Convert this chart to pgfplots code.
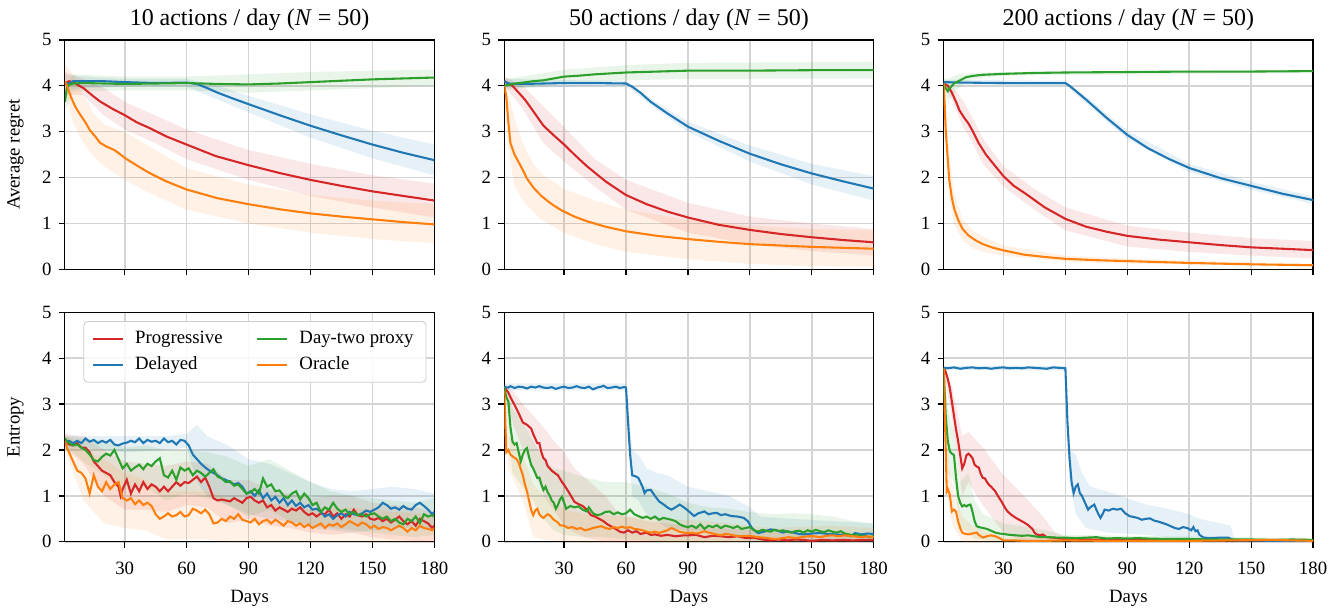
\documentclass[border=0pt]{standalone}
\usepackage{fontspec}
\setmainfont{Liberation Serif}
\usepackage{pgfplots}
\pgfplotsset{compat=1.18}
\usepgfplotslibrary{groupplots,fillbetween}

\definecolor{cRed}{HTML}{D62728}
\definecolor{cBlue}{HTML}{1F77B4}
\definecolor{cGreen}{HTML}{2CA02C}
\definecolor{cOrange}{HTML}{FF7F0E}

% shaded band: name, colour, upper, lower
\newcommand{\band}[4]{%
  \addplot[draw=none,forget plot,name path=#1u] coordinates {#3};
  \addplot[draw=none,forget plot,name path=#1l] coordinates {#4};
  \addplot[fill=#2,fill opacity=0.11,draw=none,forget plot] fill between[of=#1u and #1l];
}

\begin{document}
\begin{tikzpicture}
\begin{groupplot}[
  group style={group size=3 by 2, horizontal sep=1.18cm, vertical sep=0.724cm,
    xticklabels at=edge bottom},
  scale only axis, width=6.23cm, height=3.87cm,
  xmin=1, xmax=180, ymin=0, ymax=5,
  xtick={30,60,...,180}, ytick={0,1,...,5},
  xtick pos=lower, ytick pos=left,
  tick align=outside, major tick length=0.1cm,
  tick style={black,line width=0.6pt},
  axis line style={line width=0.6pt},
  grid=major, grid style={black!17,line width=0.75pt},
  tick label style={font=\small}, label style={font=\small},
  xticklabel shift=3.4pt, xlabel shift=0.5pt, ylabel shift=2pt,
  title style={font=\fontsize{11.5}{13.8}\selectfont, yshift=-5pt},
  /pgf/number format/assume math mode=true,
  every axis plot/.append style={line width=1pt},
]

% ---------- 10 actions, regret
\nextgroupplot[title={10 actions / day (\textit{N} = 50)}, ylabel={Average regret}]
\band{a}{cRed}{(1,4.3)(10,4.15)(20,3.95)(30,3.65)(45,3.35)(60,3.05)(90,2.6)(120,2.3)(150,2.05)(180,1.87)}{(1,3.8)(10,3.8)(20,3.35)(30,3.05)(45,2.75)(60,2.4)(90,1.95)(120,1.6)(150,1.35)(180,1.13)}
\band{b}{cBlue}{(1,4.25)(10,4.2)(30,4.15)(60,4.15)(75,4.0)(90,3.78)(120,3.38)(150,3.02)(180,2.72)}{(1,3.9)(10,3.95)(30,3.98)(60,3.98)(75,3.7)(90,3.42)(120,2.87)(150,2.42)(180,2.05)}
\band{c}{cGreen}{(1,3.9)(5,4.25)(30,4.2)(60,4.2)(90,4.25)(120,4.3)(150,4.33)(180,4.35)}{(1,3.45)(5,3.88)(30,3.9)(60,3.9)(90,3.85)(120,3.9)(150,3.95)(180,4.0)}
\band{d}{cOrange}{(1,4.45)(5,4.25)(10,3.8)(15,3.4)(20,3.15)(30,3.0)(45,2.6)(60,2.2)(90,1.85)(120,1.62)(150,1.5)(180,1.42)}{(1,3.8)(5,3.2)(10,2.75)(15,2.45)(20,2.25)(30,1.95)(45,1.6)(60,1.3)(90,1.0)(120,0.8)(150,0.66)(180,0.57)}
\addplot[cRed] coordinates {(1,4.05)(3,4.1)(5,4.08)(8,4.0)(10,3.95)(14,3.8)(18,3.66)(24,3.5)(30,3.36)(36,3.2)(42,3.08)(50,2.9)(60,2.72)(74,2.47)(90,2.27)(105,2.1)(120,1.95)(135,1.82)(150,1.7)(165,1.6)(180,1.5)};
\addplot[cBlue] coordinates {(1,4.05)(3,4.05)(5,4.1)(10,4.1)(20,4.1)(30,4.08)(45,4.06)(60,4.07)(65,4.04)(70,3.95)(75,3.85)(82,3.73)(90,3.6)(105,3.36)(120,3.13)(135,2.92)(150,2.72)(165,2.54)(180,2.38)};
\addplot[cGreen] coordinates {(1,3.65)(2,3.95)(3,4.02)(5,4.05)(10,4.06)(20,4.05)(30,4.04)(45,4.05)(60,4.06)(75,4.04)(90,4.03)(105,4.05)(120,4.08)(135,4.11)(150,4.14)(165,4.16)(180,4.18)};
\addplot[cOrange] coordinates {(1,4.1)(2,4.0)(4,3.75)(6,3.55)(8,3.4)(11,3.2)(13,3.04)(16,2.88)(18,2.76)(21,2.68)(25,2.6)(28,2.5)(30,2.43)(36,2.26)(42,2.1)(50,1.92)(60,1.74)(75,1.55)(90,1.42)(105,1.31)(120,1.22)(135,1.15)(150,1.09)(165,1.03)(180,0.98)};

% ---------- 50 actions, regret
\nextgroupplot[title={50 actions / day (\textit{N} = 50)}]
\band{a}{cRed}{(1,4.2)(10,4.0)(20,3.55)(30,3.1)(45,2.4)(60,1.95)(90,1.45)(120,1.15)(150,1.0)(180,0.88)}{(1,4.0)(10,3.5)(20,2.75)(30,2.35)(45,1.8)(60,1.3)(90,0.8)(120,0.55)(150,0.4)(180,0.3)}
\band{b}{cBlue}{(1,4.15)(60,4.1)(72,3.72)(90,3.22)(120,2.7)(150,2.3)(180,2.03)}{(1,3.95)(60,4.0)(72,3.58)(90,3.0)(120,2.35)(150,1.85)(180,1.5)}
\band{c}{cGreen}{(1,4.15)(10,4.2)(30,4.35)(60,4.45)(90,4.5)(180,4.52)}{(1,3.9)(10,3.95)(30,4.05)(60,4.12)(90,4.15)(180,4.16)}
\band{d}{cOrange}{(1,4.1)(3,3.8)(6,3.3)(10,2.75)(15,2.3)(20,2.05)(30,1.75)(45,1.5)(60,1.3)(90,1.08)(120,0.95)(150,0.88)(180,0.85)}{(1,3.8)(3,2.6)(6,1.8)(10,1.5)(15,1.25)(20,1.05)(30,0.8)(45,0.55)(60,0.38)(90,0.22)(120,0.12)(150,0.07)(180,0.05)}
\addplot[cRed] coordinates {(1,4.1)(3,4.05)(5,4.0)(8,3.85)(11,3.7)(15,3.45)(20,3.13)(25,2.92)(30,2.72)(35,2.5)(41,2.25)(50,1.92)(60,1.62)(70,1.42)(80,1.26)(90,1.13)(105,0.97)(120,0.86)(135,0.77)(150,0.7)(165,0.64)(180,0.59)};
\addplot[cBlue] coordinates {(1,4.1)(3,4.05)(10,4.04)(20,4.05)(30,4.06)(45,4.06)(60,4.05)(63,3.98)(67,3.85)(72,3.65)(80,3.4)(90,3.11)(105,2.8)(120,2.52)(135,2.29)(150,2.09)(165,1.92)(180,1.76)};
\addplot[cGreen] coordinates {(1,4.0)(5,4.04)(10,4.07)(15,4.1)(20,4.12)(25,4.16)(30,4.2)(37,4.22)(45,4.25)(60,4.29)(75,4.31)(90,4.33)(120,4.33)(150,4.34)(180,4.34)};
\addplot[cOrange] coordinates {(1,4.0)(2,3.76)(3,3.2)(4,2.75)(6,2.5)(9,2.25)(12,1.98)(15.5,1.76)(19,1.6)(22,1.49)(25,1.39)(29,1.28)(35,1.15)(41,1.05)(50,0.93)(60,0.83)(75,0.73)(90,0.66)(105,0.6)(120,0.55)(135,0.52)(150,0.49)(165,0.47)(180,0.45)};

% ---------- 200 actions, regret
\nextgroupplot[title={200 actions / day (\textit{N} = 50)}]
\band{a}{cRed}{(1,4.1)(5,4.0)(10,3.7)(15,3.3)(20,2.85)(30,2.25)(45,1.75)(60,1.35)(90,0.95)(120,0.8)(150,0.68)(180,0.62)}{(1,4.0)(5,3.7)(10,3.15)(15,2.75)(20,2.3)(30,1.8)(45,1.3)(60,0.85)(90,0.5)(120,0.38)(150,0.3)(180,0.24)}
\band{b}{cBlue}{(1,4.13)(60,4.11)(73,3.66)(90,3.02)(120,2.3)(150,1.91)(180,1.59)}{(1,4.03)(60,4.01)(73,3.5)(90,2.84)(120,2.12)(150,1.73)(180,1.43)}
\band{c}{cGreen}{(1,4.15)(3,4.15)(8,4.25)(15,4.28)(30,4.3)(180,4.35)}{(1,3.95)(3,3.65)(8,3.95)(15,4.15)(30,4.22)(180,4.29)}
\band{d}{cOrange}{(1,4.1)(2,3.5)(4,2.4)(6,1.7)(10,1.1)(15,0.85)(20,0.72)(30,0.52)(60,0.3)(90,0.23)(180,0.12)}{(1,4.0)(2,2.6)(4,1.5)(6,1.0)(10,0.65)(15,0.45)(20,0.38)(30,0.3)(60,0.17)(90,0.13)(180,0.06)}
\addplot[cRed] coordinates {(1,4.05)(3,4.0)(5,3.85)(7,3.65)(8.6,3.47)(11,3.3)(13,3.18)(15,3.02)(18,2.75)(21.5,2.5)(26,2.25)(30,2.03)(35,1.82)(41,1.64)(50,1.35)(60,1.1)(70,0.93)(80,0.82)(90,0.73)(105,0.65)(120,0.59)(135,0.53)(150,0.48)(165,0.45)(180,0.42)};
\addplot[cBlue] coordinates {(1,4.08)(10,4.07)(30,4.06)(60,4.06)(62,4.0)(66,3.85)(70,3.7)(73,3.58)(80,3.3)(90,2.93)(100,2.64)(110,2.41)(120,2.21)(135,1.99)(150,1.82)(165,1.65)(180,1.51)};
\addplot[cGreen] coordinates {(1,4.05)(2,3.95)(3,3.88)(4,3.95)(6,4.05)(9,4.12)(12,4.19)(16,4.22)(20,4.24)(30,4.26)(45,4.28)(60,4.29)(90,4.3)(120,4.31)(150,4.31)(180,4.32)};
\addplot[cOrange] coordinates {(1,4.05)(1.5,3.6)(2,3.04)(3,2.4)(3.7,1.96)(5,1.55)(6.2,1.31)(8,1.08)(10.2,0.88)(13,0.74)(16.6,0.63)(20,0.55)(25,0.47)(30.4,0.41)(40,0.32)(50,0.27)(60,0.23)(75,0.2)(90,0.18)(120,0.14)(150,0.11)(180,0.09)};

% ---------- 10 actions, entropy
\nextgroupplot[ylabel={Entropy}, xlabel={Days},
  legend columns=2, transpose legend, legend cell align=left,
  legend style={at={(0.05,0.962)}, anchor=north west, draw=black!20, rounded corners=2pt,
    fill=white, fill opacity=0.85, text opacity=1, font=\small,
    inner xsep=4pt, inner ysep=2.5pt, row sep=1pt,
    /tikz/every odd column/.append style={column sep=0.12cm},
    /tikz/every even column/.append style={column sep=0.5cm}},
  legend image code/.code={\draw[#1,line width=1pt] (0cm,0cm) -- (0.5cm,0cm);}]
\band{a}{cRed}{(1,2.35)(10,2.3)(20,2.0)(30,1.75)(40,1.7)(50,1.65)(60,1.75)(70,1.7)(80,1.35)(90,1.35)(100,1.15)(110,1.05)(120,0.95)(130,1.0)(140,1.0)(150,0.85)(160,0.8)(170,0.75)(180,0.65)}{(1,2.05)(10,1.7)(20,1.0)(30,0.7)(40,0.7)(50,0.65)(60,0.8)(70,0.75)(80,0.4)(90,0.5)(100,0.35)(110,0.3)(120,0.2)(130,0.15)(140,0.2)(150,0.1)(160,0.05)(170,0.02)(180,0.0)}
\band{b}{cBlue}{(1,2.3)(10,2.3)(30,2.3)(50,2.3)(60,2.35)(65,2.55)(70,2.3)(80,2.1)(90,1.8)(100,1.7)(110,1.5)(120,1.3)(130,1.15)(140,1.1)(150,1.15)(160,1.2)(170,1.15)(180,1.05)}{(1,2.0)(10,2.05)(30,1.95)(50,2.0)(60,2.05)(65,1.3)(70,1.0)(80,0.8)(90,0.6)(100,0.5)(110,0.45)(120,0.3)(130,0.25)(140,0.2)(150,0.25)(160,0.3)(170,0.3)(180,0.25)}
\band{c}{cGreen}{(1,2.3)(10,2.25)(20,2.2)(30,2.05)(40,2.1)(50,2.0)(60,2.0)(70,1.95)(80,1.85)(90,1.65)(100,1.8)(110,1.55)(120,1.3)(130,1.1)(140,1.0)(150,0.95)(160,0.9)(170,0.85)(180,0.95)}{(1,2.1)(10,1.75)(20,1.45)(30,1.15)(40,1.2)(50,0.9)(60,1.05)(70,0.95)(80,0.8)(90,0.55)(100,0.7)(110,0.45)(120,0.35)(130,0.3)(140,0.25)(150,0.2)(160,0.15)(170,0.1)(180,0.15)}
\band{d}{cOrange}{(1,2.35)(10,2.0)(20,1.8)(30,1.5)(40,1.35)(50,1.1)(60,1.1)(70,1.1)(80,0.95)(90,0.9)(100,0.85)(120,0.7)(140,0.75)(160,0.65)(180,0.6)}{(1,2.0)(10,0.9)(20,0.4)(30,0.3)(40,0.25)(50,0.05)(60,0.05)(70,0.05)(80,0.0)(100,0.0)(180,0.0)}
\addplot[cRed] coordinates {(1,2.2)(3,2.12)(5,2.1)(7,2.15)(9,2.05)(11,2.05)(13,1.95)(15,1.75)(17,1.65)(19,1.55)(21,1.5)(23,1.45)(25,1.3)(27,1.2)(28,1.0)(29,1.15)(31,1.35)(33,1.05)(35,1.25)(37,1.1)(39,1.3)(41,1.15)(43,1.25)(45,1.2)(47,1.1)(49,1.2)(51,1.1)(53,1.2)(55,1.3)(57,1.22)(59,1.3)(61,1.28)(63,1.35)(65,1.42)(67,1.3)(69,1.4)(71,1.2)(73,0.95)(75,0.9)(77,0.92)(79,0.9)(81,0.88)(83,0.95)(85,0.9)(87,0.85)(89,0.95)(91,0.98)(93,0.9)(95,0.85)(97,0.9)(99,0.75)(101,0.8)(103,0.68)(105,0.75)(107,0.7)(109,0.65)(111,0.72)(113,0.68)(115,0.75)(117,0.65)(119,0.58)(121,0.62)(123,0.55)(125,0.62)(127,0.6)(129,0.7)(131,0.55)(133,0.62)(135,0.5)(137,0.6)(139,0.55)(141,0.7)(143,0.58)(145,0.55)(147,0.6)(149,0.5)(151,0.48)(153,0.52)(155,0.45)(157,0.5)(159,0.42)(161,0.48)(163,0.55)(165,0.45)(167,0.38)(169,0.45)(171,0.35)(173,0.5)(175,0.45)(177,0.4)(179,0.3)(180,0.35)};
\addlegendentry{Progressive}
\addplot[cBlue] coordinates {(1,2.15)(3,2.2)(5,2.15)(7,2.2)(9,2.15)(11,2.25)(13,2.18)(15,2.22)(17,2.15)(19,2.2)(21,2.16)(23,2.22)(25,2.12)(27,2.1)(29,2.14)(31,2.16)(33,2.2)(35,2.17)(37,2.25)(39,2.15)(41,2.22)(43,2.18)(45,2.2)(47,2.15)(49,2.25)(51,2.17)(53,2.2)(55,2.12)(57,2.22)(59,2.2)(61,2.1)(63,1.9)(65,1.8)(67,1.7)(69,1.62)(71,1.55)(73,1.5)(75,1.45)(77,1.38)(79,1.35)(81,1.3)(83,1.25)(85,1.28)(87,1.2)(89,1.05)(91,1.1)(93,1.0)(95,1.12)(97,0.95)(99,1.05)(101,0.9)(103,0.98)(105,0.85)(107,0.95)(109,0.8)(111,0.9)(113,0.78)(115,0.85)(117,0.75)(119,0.8)(121,0.7)(123,0.72)(125,0.65)(127,0.55)(129,0.6)(131,0.5)(133,0.58)(135,0.62)(137,0.55)(139,0.65)(141,0.6)(143,0.58)(145,0.62)(147,0.68)(149,0.65)(151,0.7)(153,0.75)(155,0.85)(157,0.8)(159,0.72)(161,0.75)(163,0.7)(165,0.78)(167,0.72)(169,0.7)(171,0.8)(173,0.85)(175,0.78)(177,0.7)(179,0.6)(180,0.65)};
\addlegendentry{Delayed}
\addplot[cGreen] coordinates {(1,2.25)(3,2.15)(5,2.1)(7,2.12)(9,2.05)(11,2.0)(13,1.9)(15,1.78)(17,1.75)(19,1.85)(21,1.92)(23,1.88)(25,2.0)(27,1.8)(29,1.6)(31,1.7)(33,1.55)(35,1.62)(37,1.68)(39,1.58)(41,1.7)(43,1.65)(45,1.75)(47,1.82)(49,1.45)(51,1.4)(53,1.55)(55,1.35)(57,1.62)(59,1.55)(61,1.6)(63,1.45)(65,1.55)(67,1.5)(69,1.42)(71,1.5)(73,1.58)(75,1.42)(77,1.38)(79,1.3)(81,1.32)(83,1.22)(85,1.25)(87,1.15)(89,1.05)(91,1.08)(93,1.15)(95,1.05)(97,1.38)(99,1.2)(101,1.25)(103,1.1)(105,1.12)(107,1.0)(109,0.95)(111,1.05)(113,1.1)(115,0.92)(117,1.05)(119,0.95)(121,0.8)(123,0.85)(125,0.65)(127,0.75)(129,0.7)(131,0.85)(133,0.72)(135,0.65)(137,0.7)(139,0.6)(141,0.65)(143,0.58)(145,0.6)(147,0.55)(149,0.6)(151,0.62)(153,0.55)(155,0.5)(157,0.55)(159,0.45)(161,0.5)(163,0.42)(165,0.38)(167,0.5)(169,0.45)(171,0.55)(173,0.4)(175,0.6)(177,0.55)(179,0.58)(180,0.55)};
\addlegendentry{Day-two proxy}
\addplot[cOrange] coordinates {(1,2.2)(2,2.05)(3,1.95)(5,1.75)(7,1.55)(9,1.5)(11,1.38)(13,1.05)(15,1.45)(17,1.2)(19,1.1)(21,1.3)(23,1.15)(25,1.25)(27,1.3)(29,0.95)(31,0.9)(33,0.95)(35,0.82)(37,0.9)(39,0.8)(41,0.85)(43,0.78)(45,0.6)(47,0.5)(49,0.55)(51,0.62)(53,0.55)(55,0.58)(57,0.65)(59,0.55)(61,0.58)(63,0.72)(65,0.68)(67,0.62)(69,0.7)(71,0.6)(73,0.4)(75,0.42)(77,0.5)(79,0.45)(81,0.55)(83,0.5)(85,0.6)(87,0.48)(89,0.45)(91,0.42)(93,0.5)(95,0.38)(97,0.45)(99,0.48)(101,0.4)(103,0.48)(105,0.42)(107,0.35)(109,0.45)(111,0.42)(113,0.35)(115,0.4)(117,0.32)(119,0.38)(121,0.3)(123,0.35)(125,0.4)(127,0.3)(129,0.38)(131,0.35)(133,0.4)(135,0.32)(137,0.38)(139,0.45)(141,0.4)(143,0.35)(145,0.42)(147,0.38)(149,0.3)(151,0.35)(153,0.28)(155,0.32)(157,0.3)(159,0.25)(161,0.3)(163,0.35)(165,0.3)(167,0.22)(169,0.3)(171,0.25)(173,0.35)(175,0.3)(177,0.28)(179,0.25)(180,0.3)};
\addlegendentry{Oracle}

% ---------- 50 actions, entropy
\nextgroupplot[xlabel={Days}]
\band{a}{cRed}{(1,3.45)(5,3.3)(10,3.0)(15,2.75)(20,2.5)(25,2.2)(30,1.95)(35,1.6)(40,1.4)(45,1.2)(50,1.0)(55,0.7)(60,0.55)(70,0.45)(90,0.35)(120,0.25)(150,0.15)(180,0.12)}{(1,3.3)(5,2.6)(10,2.0)(15,1.6)(20,1.0)(25,0.7)(30,0.35)(35,0.2)(40,0.1)(50,0.0)(180,0.0)}
\band{b}{cBlue}{(1,3.45)(60,3.45)(61,3.0)(63,2.0)(66,1.9)(70,1.6)(75,1.5)(80,1.45)(90,1.2)(100,1.1)(110,1.0)(120,0.75)(125,0.55)(140,0.5)(160,0.45)(180,0.4)}{(1,3.3)(60,3.3)(61,2.3)(63,1.0)(66,0.9)(70,0.6)(75,0.45)(80,0.3)(90,0.25)(100,0.2)(110,0.15)(120,0.05)(125,0.0)(180,0.0)}
\band{c}{cGreen}{(1,3.45)(5,2.9)(10,2.6)(15,2.2)(20,1.8)(25,1.6)(30,1.55)(40,1.4)(50,1.3)(60,1.3)(70,1.2)(80,1.05)(90,0.85)(100,0.75)(110,0.72)(120,0.65)(130,0.6)(140,0.62)(150,0.6)(160,0.55)(170,0.45)(180,0.4)}{(1,3.3)(5,1.5)(10,1.2)(15,0.9)(20,0.5)(25,0.25)(30,0.15)(40,0.1)(50,0.1)(60,0.05)(80,0.0)(180,0.0)}
\band{d}{cOrange}{(1,3.4)(3,2.3)(6,2.2)(10,1.9)(15,1.25)(20,1.0)(30,0.7)(40,0.6)(60,0.55)(80,0.5)(100,0.45)(130,0.3)(160,0.35)(180,0.3)}{(1,3.2)(3,1.6)(6,1.3)(10,0.9)(15,0.1)(20,0.05)(30,0.0)(180,0.0)}
\addplot[cRed] coordinates {(1,3.37)(3,3.25)(4,3.15)(6,2.98)(8,2.8)(10,2.6)(12,2.55)(14,2.47)(15,2.35)(17,2.15)(18,2.15)(19,1.95)(20,1.82)(21,1.78)(22,1.65)(24,1.55)(26,1.48)(27,1.45)(29,1.3)(30,1.24)(32,1.1)(34,0.95)(35,0.87)(37,0.82)(39,0.78)(41,0.7)(43,0.58)(45,0.55)(47,0.5)(49,0.45)(51,0.38)(53,0.33)(55,0.28)(57,0.22)(59,0.2)(61,0.25)(63,0.2)(65,0.23)(67,0.17)(70,0.2)(72,0.15)(74,0.16)(77,0.13)(80,0.15)(84,0.12)(88,0.14)(90,0.14)(94,0.15)(98,0.1)(102,0.13)(106,0.12)(110,0.1)(114,0.12)(118,0.08)(122,0.09)(126,0.05)(130,0.03)(134,0.05)(138,0.03)(142,0.05)(146,0.04)(150,0.02)(155,0.04)(160,0.03)(165,0.04)(170,0.03)(175,0.04)(180,0.04)};
\addplot[cBlue] coordinates {(1,3.37)(3,3.36)(4,3.39)(6,3.35)(8,3.38)(10,3.37)(12,3.34)(14,3.38)(16,3.36)(18,3.39)(20,3.36)(22,3.35)(24,3.37)(26,3.33)(28,3.36)(30,3.38)(32,3.35)(34,3.36)(36,3.39)(38,3.36)(40,3.35)(42,3.38)(44,3.32)(46,3.36)(48,3.38)(49,3.4)(51,3.35)(53,3.36)(55,3.38)(57,3.35)(59,3.37)(60,3.36)(61,2.6)(62,1.9)(63,1.45)(65,1.42)(66,1.39)(68,1.2)(69,1.06)(70,1.12)(72,1.13)(74,1.0)(76,0.88)(78,0.82)(80,0.75)(82,0.7)(84,0.75)(86,0.81)(88,0.75)(90,0.68)(92,0.6)(93,0.56)(95,0.62)(98,0.66)(100,0.6)(102,0.62)(104,0.63)(106,0.58)(108,0.6)(111,0.56)(114,0.55)(117,0.52)(119,0.45)(121,0.3)(123,0.22)(124,0.19)(127,0.22)(130,0.27)(133,0.25)(136,0.2)(138,0.23)(141,0.2)(144,0.17)(146,0.16)(150,0.18)(154,0.19)(158,0.17)(162,0.16)(166,0.15)(169,0.12)(171,0.19)(174,0.16)(177,0.18)(180,0.17)};
\addplot[cGreen] coordinates {(1,3.37)(2,3.15)(3,3.05)(4,2.5)(5,2.18)(6,2.12)(7,2.15)(8,1.95)(9,1.75)(10,1.9)(11,2.0)(12,2.04)(13,1.85)(14,1.68)(15,1.6)(16,1.5)(17,1.39)(18,1.4)(19,1.25)(20,1.13)(21,1.2)(22,1.08)(23,1.01)(24,0.9)(25,0.85)(26,0.72)(27,0.8)(28,0.92)(29,0.98)(30,0.85)(31,0.72)(33,0.78)(35,0.75)(37,0.77)(39,0.7)(41,0.66)(42,0.75)(44,0.62)(46,0.58)(48,0.6)(50,0.65)(52,0.66)(54,0.6)(56,0.64)(58,0.6)(60,0.62)(62,0.7)(64,0.6)(66,0.56)(68,0.52)(70,0.55)(72,0.5)(74,0.55)(76,0.48)(78,0.52)(80,0.5)(82,0.48)(84,0.45)(86,0.38)(88,0.34)(90,0.32)(92,0.35)(94,0.3)(96,0.38)(98,0.28)(100,0.35)(102,0.32)(104,0.36)(106,0.3)(108,0.35)(110,0.33)(112,0.3)(114,0.34)(116,0.28)(118,0.3)(120,0.32)(122,0.25)(124,0.22)(126,0.26)(128,0.24)(130,0.22)(132,0.26)(134,0.23)(136,0.25)(138,0.22)(140,0.2)(142,0.23)(144,0.24)(146,0.2)(148,0.25)(150,0.22)(152,0.26)(154,0.23)(156,0.21)(158,0.25)(160,0.22)(162,0.2)(164,0.23)(166,0.18)(168,0.16)(170,0.14)(172,0.16)(174,0.12)(176,0.13)(178,0.1)(180,0.12)};
\addplot[cOrange] coordinates {(1,3.3)(2,1.95)(3,2.0)(4,1.9)(5,1.86)(7,1.8)(8,1.72)(10,1.45)(11,1.25)(12,1.1)(13,0.9)(14,0.7)(15,0.58)(16,0.68)(17,0.72)(18,0.6)(19,0.55)(20,0.52)(22,0.6)(23,0.58)(25,0.48)(27,0.42)(28,0.36)(30,0.35)(32,0.3)(34,0.32)(36,0.28)(38,0.3)(40,0.25)(42,0.27)(44,0.3)(46,0.32)(48,0.34)(50,0.3)(52,0.28)(54,0.32)(56,0.3)(58,0.33)(60,0.3)(62,0.32)(64,0.28)(66,0.27)(68,0.25)(70,0.22)(72,0.2)(74,0.22)(76,0.19)(78,0.22)(80,0.25)(82,0.3)(84,0.26)(86,0.22)(88,0.2)(90,0.19)(92,0.2)(94,0.18)(96,0.2)(98,0.23)(100,0.2)(102,0.18)(104,0.16)(106,0.14)(108,0.17)(110,0.16)(112,0.14)(115,0.12)(118,0.13)(121,0.12)(124,0.1)(127,0.09)(130,0.07)(133,0.06)(136,0.08)(139,0.1)(142,0.08)(145,0.1)(148,0.12)(151,0.12)(154,0.1)(157,0.13)(160,0.14)(163,0.12)(166,0.14)(170,0.12)(174,0.1)(177,0.12)(180,0.1)};

% ---------- 200 actions, entropy
\nextgroupplot[xlabel={Days}]
\band{a}{cRed}{(1,3.83)(5,3.4)(10,2.3)(13,2.4)(20,2.05)(30,1.45)(40,1.0)(50,0.5)(55,0.2)(60,0.1)(180,0.06)}{(1,3.75)(5,2.7)(10,1.0)(13,1.3)(20,0.8)(30,0.2)(40,0.0)(180,0.0)}
\band{b}{cBlue}{(1,3.83)(60,3.83)(61,2.8)(62,2.0)(65,1.9)(68,1.5)(72,1.2)(80,1.1)(90,0.95)(100,0.8)(110,0.72)(120,0.6)(125,0.5)(130,0.45)(140,0.35)(142,0.05)(180,0.04)}{(1,3.75)(60,3.73)(61,2.4)(62,1.3)(65,0.6)(70,0.3)(80,0.2)(100,0.15)(120,0.05)(125,0.0)(180,0.0)}
\band{c}{cGreen}{(1,3.83)(3,2.9)(6,2.4)(9,1.3)(13,1.5)(16,0.9)(20,0.6)(30,0.4)(45,0.3)(60,0.15)(180,0.08)}{(1,3.75)(3,1.5)(6,1.3)(9,0.3)(13,0.2)(16,0.05)(20,0.05)(30,0.0)(180,0.0)}
\band{d}{cOrange}{(1,3.83)(2,2.5)(4,1.5)(6,1.1)(10,0.55)(15,0.35)(20,0.25)(30,0.1)(180,0.06)}{(1,3.75)(2,1.5)(4,0.6)(6,0.3)(10,0.0)(180,0.0)}
\addplot[cRed] coordinates {(1,3.79)(2,3.7)(3,3.55)(4,3.35)(5,3.05)(6,2.75)(7,2.45)(8,2.2)(9,1.9)(10,1.6)(11,1.7)(12,1.88)(13,1.92)(14,1.88)(15,1.82)(16,1.68)(17,1.64)(18,1.62)(19,1.48)(20,1.39)(21,1.38)(22,1.3)(23,1.24)(24,1.2)(25,1.15)(26,1.1)(27,1.02)(28,0.95)(29,0.88)(30,0.8)(31,0.72)(32,0.66)(33,0.62)(34,0.58)(35,0.55)(36,0.52)(38,0.47)(40,0.42)(42,0.36)(44,0.28)(45,0.2)(46,0.16)(48,0.14)(49,0.16)(51,0.1)(54,0.09)(57,0.07)(60,0.06)(70,0.05)(90,0.04)(120,0.03)(150,0.03)(180,0.03)};
\addplot[cBlue] coordinates {(1,3.79)(3,3.78)(6,3.8)(9,3.77)(12,3.79)(15,3.8)(18,3.78)(21,3.79)(24,3.77)(27,3.79)(30,3.8)(33,3.78)(36,3.79)(39,3.78)(42,3.8)(45,3.79)(48,3.78)(51,3.77)(54,3.8)(57,3.79)(60,3.78)(61,2.6)(62,1.82)(63,1.3)(64,1.06)(65,1.2)(66,1.25)(67,1.06)(68,1.0)(69,0.9)(70,0.8)(71,0.7)(72,0.75)(74,0.81)(75,0.7)(76,0.6)(77,0.52)(78,0.6)(79,0.7)(81,0.68)(83,0.72)(85,0.7)(87,0.72)(89,0.62)(91,0.56)(93,0.54)(95,0.52)(97,0.48)(99,0.5)(101,0.51)(103,0.46)(105,0.44)(107,0.41)(109,0.38)(111,0.34)(113,0.3)(115,0.28)(117,0.32)(119,0.3)(121,0.25)(122,0.32)(123,0.23)(124,0.25)(125,0.15)(127,0.09)(130,0.08)(135,0.09)(139,0.09)(141,0.04)(145,0.03)(150,0.03)(160,0.02)(170,0.02)(180,0.02)};
\addplot[cGreen] coordinates {(1,3.79)(2,2.76)(3,2.2)(4,1.97)(5,1.92)(6,1.89)(7,1.4)(8,1.0)(9,0.85)(10,0.77)(11,0.8)(12,0.77)(13,0.8)(14,0.81)(15,0.65)(16,0.45)(17,0.34)(18,0.32)(20,0.3)(22,0.28)(24,0.24)(26,0.2)(28,0.18)(30,0.17)(33,0.15)(36,0.14)(39,0.13)(42,0.14)(45,0.12)(48,0.1)(52,0.1)(56,0.09)(60,0.09)(65,0.08)(70,0.09)(75,0.1)(80,0.07)(85,0.08)(90,0.07)(95,0.08)(100,0.07)(110,0.06)(120,0.06)(130,0.05)(140,0.05)(150,0.05)(160,0.04)(170,0.05)(180,0.04)};
\addplot[cOrange] coordinates {(1,3.79)(2,2.04)(2.5,1.1)(3,1.15)(4,1.02)(5,0.66)(6,0.7)(7,0.66)(8,0.45)(9,0.3)(10,0.2)(11,0.18)(13,0.16)(15,0.18)(17,0.2)(18,0.15)(20,0.09)(22,0.12)(24,0.14)(26,0.12)(28,0.08)(30,0.03)(35,0.03)(40,0.02)(50,0.02)(60,0.03)(80,0.02)(100,0.02)(120,0.02)(160,0.04)(180,0.02)};
\end{groupplot}
% page margins as in the reference
\path ([xshift=-1.094cm,yshift=0.673cm]group c1r1.north west)
      ([xshift=0.505cm,yshift=-1.077cm]group c3r2.south east);
\end{tikzpicture}
\end{document}
